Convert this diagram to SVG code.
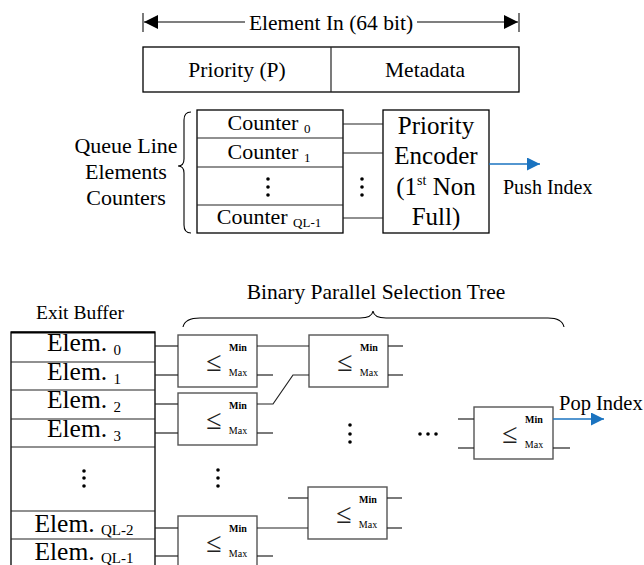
<svg xmlns="http://www.w3.org/2000/svg" width="644" height="565" viewBox="0 0 644 565">
  <style>
    text { font-family: "Liberation Serif", "Times New Roman", serif; fill: #000; }
    .t21 { font-size: 21.5px; }
    .t22 { font-size: 22px; }
    .t25 { font-size: 25px; }
    .el { font-size: 25.5px; }
    .sub { font-size: 13px; }
    .sub15 { font-size: 15px; }
    .box { fill: #fff; stroke: #000; stroke-width: 1.3; }
    .cmp { fill: #fff; stroke: #555; stroke-width: 1.4; }
    .ln { fill: none; stroke: #222; stroke-width: 1.2; }
    .blue { fill: none; stroke: #1a73c0; stroke-width: 1.6; }
    .brace { fill: none; stroke: #000; stroke-width: 1.1; }
    .le { font-size: 28px; fill: #222; }
    .min { font-size: 10px; font-weight: bold; }
    .max { font-size: 10px; }
    .dot { fill: #000; }
  </style>
  <defs>
    <marker id="blackHead" viewBox="0 0 10 10" refX="10" refY="5" markerWidth="14" markerHeight="14" markerUnits="userSpaceOnUse" orient="auto-start-reverse">
      <path d="M0,0 L10,5 L0,10 z" fill="#000"/>
    </marker>
    <marker id="blueHead" viewBox="0 0 10 10" refX="10" refY="5" markerWidth="13" markerHeight="13" markerUnits="userSpaceOnUse" orient="auto">
      <path d="M0,0 L10,5 L0,10 z" fill="#1a73c0"/>
    </marker>
    <g id="comparator">
      <rect class="cmp" x="0" y="0" width="79" height="52"/>
      <text class="le" x="36" y="36" text-anchor="middle">≤</text>
      <text class="min" x="60" y="16" text-anchor="middle">Min</text>
      <text class="max" x="60" y="41" text-anchor="middle">Max</text>
    </g>
  </defs>

  <!-- element word layout -->
  <g id="element-in">
    <line class="ln" x1="143" y1="13" x2="143" y2="32"/>
    <line class="ln" x1="519" y1="13" x2="519" y2="32"/>
    <line x1="144" y1="22" x2="245" y2="22" stroke="#000" stroke-width="1.2" marker-start="url(#blackHead)"/>
    <line x1="417" y1="22" x2="518" y2="22" stroke="#000" stroke-width="1.2" marker-end="url(#blackHead)"/>
    <text class="t21" x="331" y="30" text-anchor="middle">Element In (64 bit)</text>
  </g>
  <g id="element-fields">
    <rect class="box" x="143" y="47" width="376" height="45"/>
    <line class="ln" x1="331" y1="47" x2="331" y2="92"/>
    <text class="t21" x="237" y="77" text-anchor="middle">Priority (P)</text>
    <text class="t21" x="425" y="77" text-anchor="middle">Metadata</text>
  </g>

  <!-- queue line counters -->
  <g id="counters-label">
    <text class="t22" x="126" y="153" text-anchor="middle">Queue Line</text>
    <text class="t22" x="126" y="179" text-anchor="middle">Elements</text>
    <text class="t22" x="126" y="205" text-anchor="middle">Counters</text>
    <path class="brace" d="M191,112 Q184,112 184,120 L184,159 Q184,166 178,166 Q184,166 184,173 L184,225 Q184,233 191,233"/>
  </g>
  <g id="counters">
    <rect class="box" x="197" y="110" width="146" height="123"/>
    <line class="ln" x1="197" y1="138" x2="343" y2="138"/>
    <line class="ln" x1="197" y1="167" x2="343" y2="167"/>
    <line class="ln" x1="197" y1="205" x2="343" y2="205"/>
    <text class="t22" x="269" y="130" text-anchor="middle">Counter <tspan class="sub" dy="3">0</tspan></text>
    <text class="t22" x="269" y="159" text-anchor="middle">Counter <tspan class="sub" dy="3">1</tspan></text>
    <circle class="dot" cx="268" cy="179" r="1.8"/>
    <circle class="dot" cx="268" cy="187" r="1.8"/>
    <circle class="dot" cx="268" cy="195" r="1.8"/>
    <text class="t22" x="269" y="224" text-anchor="middle">Counter <tspan class="sub" dy="3">QL-1</tspan></text>
  </g>
  <g id="priority-encoder">
    <rect class="box" x="383" y="110" width="106" height="123"/>
    <text class="t25" x="436" y="134" text-anchor="middle">Priority</text>
    <text class="t25" x="436" y="164" text-anchor="middle">Encoder</text>
    <text class="t25" x="436" y="195" text-anchor="middle">(1<tspan font-size="14" dy="-10">st</tspan><tspan dy="10"> Non</tspan></text>
    <text class="t25" x="436" y="225" text-anchor="middle">Full)</text>
  </g>
  <text id="push-index" x="503" y="194" style="font-size:20px">Push Index</text>

  <!-- exit buffer -->
  <g id="exit-buffer">
    <text x="80" y="319" text-anchor="middle" style="font-size:19.5px">Exit Buffer</text>
    <rect class="box" x="11" y="332" width="144" height="240"/>
    <line x1="11" y1="332.5" x2="155" y2="332.5" stroke="#000" stroke-width="2"/>
    <line class="ln" x1="11" y1="362" x2="155" y2="362"/>
    <line class="ln" x1="11" y1="390" x2="155" y2="390"/>
    <line class="ln" x1="11" y1="419" x2="155" y2="419"/>
    <line class="ln" x1="11" y1="447" x2="155" y2="447"/>
    <line class="ln" x1="11" y1="511" x2="155" y2="511"/>
    <line class="ln" x1="11" y1="539" x2="155" y2="539"/>
    <text class="el" x="84" y="351" text-anchor="middle">Elem. <tspan class="sub15" dy="4">0</tspan></text>
    <text class="el" x="84" y="380" text-anchor="middle">Elem. <tspan class="sub15" dy="4">1</tspan></text>
    <text class="el" x="84" y="408" text-anchor="middle">Elem. <tspan class="sub15" dy="4">2</tspan></text>
    <text class="el" x="84" y="437" text-anchor="middle">Elem. <tspan class="sub15" dy="4">3</tspan></text>
    <circle class="dot" cx="84" cy="471" r="1.8"/>
    <circle class="dot" cx="84" cy="478" r="1.8"/>
    <circle class="dot" cx="84" cy="486" r="1.8"/>
    <text class="el" x="84" y="532" text-anchor="middle">Elem. <tspan class="sub15" dy="3">QL-2</tspan></text>
    <text class="el" x="84" y="560" text-anchor="middle">Elem. <tspan class="sub15" dy="3">QL-1</tspan></text>
  </g>

  <!-- selection tree -->
  <g id="tree-label">
    <text class="t21" x="376" y="299" text-anchor="middle">Binary Parallel Selection Tree</text>
    <path class="brace" d="M183,327 Q185,318 200,318 L360,318 Q372,318 373,311 Q374,318 386,318 L548,318 Q562,318 564,327"/>
  </g>
  <g id="cmp-1" transform="translate(178,335)"><use href="#comparator"/></g>
  <g id="cmp-2" transform="translate(178,393)"><use href="#comparator"/></g>
  <g id="cmp-3" transform="translate(309,335)"><use href="#comparator"/></g>
  <g id="cmp-4" transform="translate(178,516)"><use href="#comparator"/></g>
  <g id="cmp-5" transform="translate(308,487)"><use href="#comparator"/></g>
  <g id="cmp-6" transform="translate(474,407)"><use href="#comparator"/></g>
  <text id="pop-index" x="559" y="410" style="font-size:20.5px">Pop Index</text>

  <g id="ellipses">
    <circle class="dot" cx="362" cy="179" r="1.8"/>
    <circle class="dot" cx="362" cy="187" r="1.8"/>
    <circle class="dot" cx="362" cy="195" r="1.8"/>
    <circle class="dot" cx="350" cy="425" r="1.8"/>
    <circle class="dot" cx="350" cy="434" r="1.8"/>
    <circle class="dot" cx="350" cy="442" r="1.8"/>
    <circle class="dot" cx="218" cy="470" r="1.8"/>
    <circle class="dot" cx="218" cy="478" r="1.8"/>
    <circle class="dot" cx="218" cy="486" r="1.8"/>
    <circle class="dot" cx="420" cy="434" r="1.8"/>
    <circle class="dot" cx="428" cy="434" r="1.8"/>
    <circle class="dot" cx="436" cy="434" r="1.8"/>
  </g>

  <g id="connectors">
    <!-- counters to encoder -->
    <line class="ln" x1="343" y1="124" x2="383" y2="124"/>
    <line class="ln" x1="343" y1="153" x2="383" y2="153"/>
    <line class="ln" x1="343" y1="218" x2="383" y2="218"/>
    <line class="blue" x1="489" y1="164" x2="540" y2="164" marker-end="url(#blueHead)"/>
    <!-- buffer to first stage -->
    <line class="ln" x1="155" y1="346" x2="178" y2="346"/>
    <line class="ln" x1="155" y1="375" x2="178" y2="375"/>
    <line class="ln" x1="155" y1="404" x2="178" y2="404"/>
    <line class="ln" x1="155" y1="433" x2="178" y2="433"/>
    <line class="ln" x1="155" y1="528" x2="178" y2="528"/>
    <line class="ln" x1="155" y1="556" x2="178" y2="556"/>
    <!-- first stage outputs -->
    <line class="ln" x1="257" y1="346" x2="309" y2="346"/>
    <line class="ln" x1="257" y1="375" x2="273" y2="375"/>
    <polyline class="ln" points="257,404 273,404 293,375 309,375"/>
    <line class="ln" x1="257" y1="433" x2="273" y2="433"/>
    <line class="ln" x1="257" y1="528" x2="308" y2="528"/>
    <line class="ln" x1="257" y1="556" x2="273" y2="556"/>
    <!-- second stage -->
    <line class="ln" x1="388" y1="346" x2="403" y2="346"/>
    <line class="ln" x1="388" y1="375" x2="403" y2="375"/>
    <line class="ln" x1="288" y1="498" x2="308" y2="498"/>
    <line class="ln" x1="387" y1="498" x2="402" y2="498"/>
    <line class="ln" x1="387" y1="528" x2="402" y2="528"/>
    <!-- final stage -->
    <line class="ln" x1="458" y1="419" x2="474" y2="419"/>
    <line class="ln" x1="458" y1="448" x2="474" y2="448"/>
    <line class="blue" x1="553" y1="419" x2="604" y2="419" marker-end="url(#blueHead)"/>
    <line class="ln" x1="553" y1="448" x2="570" y2="448"/>
  </g>
</svg>
